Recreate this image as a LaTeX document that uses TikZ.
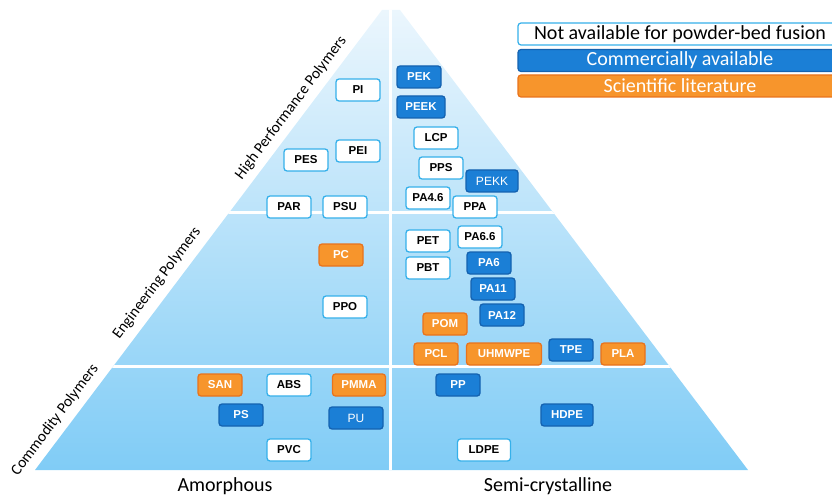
\documentclass[tikz,border=0pt]{standalone}
\usepackage{fontspec}
\setmainfont{Carlito}
\newfontfamily\boxfont{Liberation Sans}
\definecolor{nacyan}{HTML}{35B0EA}
\definecolor{cblue}{HTML}{1B7FD6}
\definecolor{cblueb}{HTML}{1462B0}
\definecolor{sorange}{HTML}{F7952C}
\definecolor{sorangeb}{HTML}{E9731C}
\definecolor{pytop}{HTML}{EBF6FD}
\definecolor{pybot}{HTML}{80CCF6}
\begin{document}
\begin{tikzpicture}[x=1pt,y=-1pt,
  pbase/.style={rounded corners=3pt, line width=1.3pt, minimum width=44pt, minimum height=22pt, inner sep=2pt, font=\boxfont\bfseries\fontsize{11.5}{13}\selectfont},
  wbox/.style={pbase, draw=nacyan, fill=white, text=black},
  bbox/.style={pbase, draw=cblueb, fill=cblue, text=white},
  obox/.style={pbase, draw=sorangeb, fill=sorange, text=white},
  edgelabel/.style={rotate=53, font=\fontsize{15.5}{17}\selectfont, text=black},
  axislabel/.style={font=\fontsize{20}{22}\selectfont, text=black},
  legbox/.style={rounded corners=3pt, line width=1.2pt, minimum width=324pt, minimum height=22pt, inner sep=0pt, font=\fontsize{20}{21}\selectfont}
]
\useasboundingbox (0,0) rectangle (832,497);
% pyramid
\coordinate (BL) at (35,470);
\coordinate (TL) at (382,10);
\coordinate (TR) at (400,10);
\coordinate (BR) at (748,470);
\shade[top color=pytop, bottom color=pybot] (BL) -- (TL) -- (TR) -- (BR) -- cycle;
\begin{scope}
\clip (BL) -- (TL) -- (TR) -- (BR) -- cycle;
\draw[white, line width=3pt] (0,212) -- (832,212);
\draw[white, line width=3pt] (0,366) -- (832,366);
\draw[white, line width=3pt] (390,0) -- (390,470);
\end{scope}
% edge labels
\node[edgelabel] (hpp) at (291,108) {High Performance Polymers};
\node[edgelabel] (engp) at (157,283) {Engineering Polymers};
\node[edgelabel] (comp) at (55,420) {Commodity Polymers};
% axis labels
\node[axislabel] (amo) at (225,486) {Amorphous};
\node[axislabel] (semi) at (548,486) {Semi-crystalline};
% legend
\node[legbox, draw=nacyan, fill=white, text=black] (lna) at (680,34) {Not available for powder-bed fusion};
\node[legbox, draw=cblueb, fill=cblue, text=white] (lca) at (680,60.5) {Commercially available};
\node[legbox, draw=sorangeb, fill=sorange, text=white] (lsl) at (680,86) {Scientific literature};
% high performance amorphous
\node[wbox] (PI) at (358,90) {PI};
\node[wbox] (PES) at (306,160) {PES};
\node[wbox] (PEI) at (358,151) {PEI};
\node[wbox] (PAR) at (289,207) {PAR};
\node[wbox] (PSU) at (345,207) {PSU};
% high performance semi-crystalline
\node[bbox] (PEK) at (419,77) {PEK};
\node[bbox, minimum width=48pt] (PEEK) at (421,107) {PEEK};
\node[wbox] (LCP) at (436,138) {LCP};
\node[wbox] (PPS) at (441,168) {PPS};
\node[bbox, minimum width=52pt, font=\boxfont\fontsize{12}{13}\selectfont] (PEKK) at (492,181) {PEKK};
\node[wbox] (PA46) at (428,198) {PA4.6};
\node[wbox] (PPA) at (475,207) {PPA};
% engineering amorphous
\node[obox] (PC) at (341,255) {PC};
\node[wbox] (PPO) at (345,307) {PPO};
% engineering semi-crystalline
\node[wbox] (PET) at (428,241) {PET};
\node[wbox] (PA66) at (480,237) {PA6.6};
\node[wbox] (PBT) at (428,268) {PBT};
\node[bbox] (PA6) at (489,263) {PA6};
\node[bbox] (PA11) at (493,289) {PA11};
\node[bbox] (PA12) at (502,315) {PA12};
\node[obox] (POM) at (445,324) {POM};
\node[obox] (PCL) at (436,354) {PCL};
\node[obox, minimum width=75pt] (UHMWPE) at (504,354) {UHMWPE};
\node[bbox] (TPE) at (571,350) {TPE};
\node[obox] (PLA) at (623,354) {PLA};
% commodity amorphous
\node[obox] (SAN) at (220,385) {SAN};
\node[wbox] (ABS) at (289,385) {ABS};
\node[obox, minimum width=53pt] (PMMA) at (359,385) {PMMA};
\node[bbox] (PS) at (241,415) {PS};
\node[bbox, minimum width=54pt, font=\boxfont\fontsize{12}{13}\selectfont] (PU) at (356,418) {PU};
\node[wbox] (PVC) at (289,450) {PVC};
% commodity semi-crystalline
\node[bbox] (PP) at (458,385) {PP};
\node[bbox, minimum width=52pt] (HDPE) at (567,415) {HDPE};
\node[wbox, minimum width=53pt] (LDPE) at (484,450) {LDPE};
\end{tikzpicture}
\end{document}
